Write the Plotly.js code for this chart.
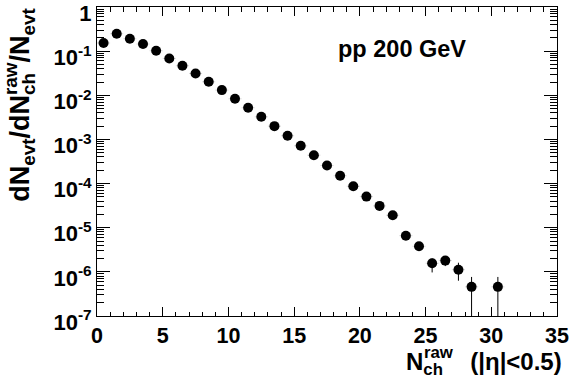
<!DOCTYPE html>
<html>
<head>
<meta charset="utf-8">
<script src="https://cdn.plot.ly/plotly-3.0.1.min.js"></script>
<style>html,body{margin:0;padding:0;background:#fff;}#chart{width:570px;height:383px;}</style>
</head>
<body>
<div id="chart"></div>
<script>
// Bin centres of N_ch^raw
var nch = [0.5,1.5,2.5,3.5,4.5,5.5,6.5,7.5,8.5,9.5,10.5,11.5,12.5,13.5,14.5,15.5,16.5,17.5,18.5,19.5,20.5,21.5,22.5,23.5,24.5,25.5,26.5,27.5,28.5,30.5];
// dN_evt/dN_ch^raw/N_evt
var dndn = [0.153,0.248,0.191,0.145,0.102,0.0684,0.0467,0.0312,0.0202,0.0131,0.00833,0.00521,0.00325,0.0020,0.00121,0.000716,0.00044,0.000257,0.000150,0.000087,0.0000507,0.0000312,0.0000192,0.0000066,0.0000038,0.00000157,0.0000018,0.00000112,0.000000457,0.000000457];
var errUp = [0,0,0,0,0,0,0,0,0,0,0,0,0,0,0,0,0,0,0,0,0,0,0,0,0,0.00000045,0.00000045,0.00000049,0.00000031,0.00000031];
var errDn = [0,0,0,0,0,0,0,0,0,0,0,0,0,0,0,0,0,0,0,0,0,0,0,0,0,0.0000006,0.00000045,0.00000049,0.00000043,0.00000043];
var halfBin = nch.map(function(){return 0.5;});
var yTickVals = [1,0.1,0.01,0.001,0.0001,0.00001,0.000001,0.0000001];
var yTickText = ['1','10<sup>-1</sup>','10<sup>-2</sup>','10<sup>-3</sup>','10<sup>-4</sup>','10<sup>-5</sup>','10<sup>-6</sup>','10<sup>-7</sup>'];
var xTickVals = [0,5,10,15,20,25,30,35];

var minorVals = [];
for (var e = -7; e < 0; e++) { for (var m = 2; m <= 9; m++) { minorVals.push(m*Math.pow(10,e)); } }

var F = 'Liberation Sans, Arial, sans-serif';
var ML = 97, MR = 13, MT = 7, MB = 67, W = 570, H = 383;
var PW = W - ML - MR, PH = H - MT - MB;
var YT_SIZE = 27, XT_SIZE = 24, SUP = 0.7;

var traces = [
  {x:nch, y:dndn, type:'scatter', mode:'markers',
   marker:{symbol:'circle', size:10, color:'#000'},
   error_y:{type:'data', array:errUp, arrayminus:errDn, symmetric:false, color:'#000', thickness:1, width:0},
   error_x:{type:'data', array:halfBin, color:'#d8d8d8', thickness:1, width:0},
   showlegend:false, hoverinfo:'skip'},
  {x:[nch[0]], y:[dndn[0]], type:'scatter', mode:'markers', yaxis:'y2', marker:{size:1, opacity:0}, showlegend:false, hoverinfo:'skip'}
];

var NB = '\u00a0';
var layout = {
  width:W, height:H,
  margin:{l:ML, r:MR, t:MT, b:MB},
  paper_bgcolor:'#fff', plot_bgcolor:'#fff',
  font:{family:F, color:'#000'},
  xaxis:{range:[0,35], tickvals:xTickVals, ticks:'inside', ticklen:9, tickwidth:1, tickcolor:'#000',
         minor:{dtick:1, tick0:0, ticks:'inside', ticklen:4.5, tickcolor:'#000', tickwidth:1},
         showgrid:false, zeroline:false, showline:true, linecolor:'#000', linewidth:1, mirror:'ticks',
         ticklabeloverflow:'allow',
         tickfont:{family:F, size:21.5, color:'#000', weight:'bold'}},
  yaxis:{type:'log', range:[-7,0], tickvals:yTickVals, ticktext:yTickText, ticks:'inside', ticklen:13, tickwidth:1, tickcolor:'#000',
         showgrid:false, zeroline:false, showline:true, linecolor:'#000', linewidth:1, mirror:'ticks', ticklabelstandoff:0,
         ticklabelshift:6, ticklabeloverflow:'allow',
         tickfont:{family:F, size:22, color:'#000', weight:'bold'}},
  yaxis2:{type:'log', range:[-7,0], overlaying:'y', side:'left', tickvals:minorVals, ticks:'inside', ticklen:7, tickwidth:1, tickcolor:'#000',
          showticklabels:false, showgrid:false, zeroline:false, showline:false, mirror:'ticks'},
  annotations:[
    {text:'<b>pp 200 GeV</b>', xref:'paper', yref:'paper', x:0.664, y:0.864, xanchor:'center', yanchor:'middle', showarrow:false,
     font:{family:F, size:23.5, color:'#000'}},
    {name:'xt', text:'<b>N<sub>ch'+NB+NB+NB+'</sub>'+NB+' (|η|<0.5)</b>', xref:'paper', yref:'paper', x:1.015, y:-0.155, xanchor:'right', yanchor:'middle', showarrow:false,
     font:{family:F, size:XT_SIZE, color:'#000'}},
    {name:'yt', text:'<b>dN<sub>evt</sub>/dN<sub>ch'+NB+NB+'</sub>/N<sub>evt</sub></b>', xref:'paper', yref:'paper', x:-0.162, y:0.685, xanchor:'center', yanchor:'middle', textangle:-90, showarrow:false,
     font:{family:F, size:YT_SIZE, color:'#000'}}
  ]
};

function findTspan(annIdx, txt) {
  var anns = document.querySelectorAll('.annotation');
  var res = [];
  var spans = anns[annIdx].querySelectorAll('tspan');
  for (var i = 0; i < spans.length; i++) {
    if (spans[i].children.length === 0 && spans[i].textContent.replace(/\u00a0/g,'') === txt) res.push(spans[i]);
  }
  return res;
}

Plotly.newPlot('chart', traces, layout, {staticPlot:true, displayModeBar:false}).then(function(gd) {
  var extra = [];
  var cv = document.createElement('canvas').getContext('2d');
  // x title: put "raw" above "ch"
  var chX = findTspan(1, 'ch')[0];
  if (chX) {
    var r = chX.getBoundingClientRect();
    var cy = (r.top + r.bottom) / 2 - 17;
    extra.push({text:'<b>raw</b>', xref:'paper', yref:'paper', x:(r.left - 1 - ML)/PW, y:(H - MB - cy)/PH,
                xanchor:'left', yanchor:'middle', showarrow:false, font:{family:F, size:XT_SIZE*SUP, color:'#000'}});
  }
  // y title: put "raw" above "ch" (rotated)
  var chY = findTspan(2, 'ch')[0];
  if (chY) {
    var q = chY.getBoundingClientRect();
    cv.font = 'bold ' + (YT_SIZE*SUP) + 'px Liberation Sans';
    var wRaw = cv.measureText('raw').width;
    var yc = q.bottom - wRaw / 2;
    var xc = (q.left + q.right) / 2 - 18;
    extra.push({text:'<b>raw</b>', xref:'paper', yref:'paper', x:(xc - ML)/PW, y:(H - MB - yc)/PH,
                xanchor:'center', yanchor:'middle', textangle:-90, showarrow:false, font:{family:F, size:YT_SIZE*SUP, color:'#000'}});
  }
  return Plotly.relayout(gd, {annotations: layout.annotations.concat(extra)});
});
</script>
</body>
</html>
